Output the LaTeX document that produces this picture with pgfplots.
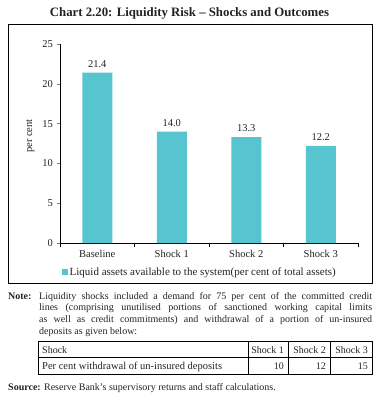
\documentclass[border=0pt]{standalone}
\usepackage{pgfplots}
\pgfplotsset{compat=1.18}
\usepackage{fontspec}
\setmainfont{Liberation Serif}
\definecolor{barc}{RGB}{86,197,208}
\definecolor{txt}{RGB}{35,35,35}
\pgfplotsset{/pgf/number format/assume math mode=true}
\begin{document}
\begin{tikzpicture}
\begin{axis}[at={(60pt,-243pt)}, anchor=south west, scale only axis,
  width=298pt, height=199pt,
  xmin=-0.5, xmax=3.5, ymin=0, ymax=25,
  axis x line=bottom, axis y line=left,
  axis line style={-, line width=0.6pt},
  ytick={0,5,...,25}, tick align=outside, major tick length=3.5pt,
  ytick style={line width=0.6pt},
  xtick={0,1,2,3}, xticklabels={Baseline,Shock 1,Shock 2,Shock 3},
  xtick style={draw=none},
  extra x ticks={-0.5,0.5,1.5,2.5,3.5}, extra x tick labels={},
  extra x tick style={xtick style={draw=black, line width=0.6pt}},
  ticklabel style={font=\fontsize{10.5}{12}\selectfont, text=txt},
  ylabel={per cent},
  ylabel style={at={(axis description cs:-0.1,0.538)}, anchor=center, font=\fontsize{10.5}{12}\selectfont, text=txt},
  legend style={at={(axis description cs:0.005,-0.146)}, anchor=west, draw=none, fill=none, inner sep=0pt, font=\fontsize{11}{12}\selectfont, text=txt},
  clip=false,
]
\addplot[ybar, bar width=30pt, fill=barc, draw=none,
  nodes near coords={\pgfmathprintnumber[fixed,fixed zerofill,precision=1]{\pgfplotspointmeta}},
  every node near coord/.append style={font=\fontsize{10.5}{12}\selectfont, text=txt, yshift=1.5pt},
  legend image code/.code={\fill[barc] (0pt,-3pt) rectangle (6pt,3pt);}]
  coordinates {(0,21.4) (1,14.0) (2,13.3) (3,12.2)};
\addlegendentry{Liquid assets available to the system(per cent of total assets)}
\end{axis}
\node[font=\bfseries\fontsize{12.8}{14}\selectfont, anchor=base, text=txt] at (189.5pt,-16.5pt) {Chart 2.20: Liquidity Risk -- Shocks and Outcomes};
\draw[line width=0.8pt] (8pt,-24.5pt) rectangle (372pt,-283pt);
\begin{scope}[every node/.style={inner sep=0pt, text=txt, font=\fontsize{10}{12}\selectfont}]
\node[anchor=base west, font=\bfseries\fontsize{10}{12}\selectfont] at (8pt,-299pt) {Note:};
\node[anchor=base west] at (39pt,-299pt) {\makebox[333pt][s]{Liquidity shocks included a demand for 75 per cent of the committed credit}};
\node[anchor=base west] at (39pt,-310.8pt) {\makebox[333pt][s]{lines (comprising unutilised portions of sanctioned working capital limits}};
\node[anchor=base west] at (39pt,-322.6pt) {\makebox[333pt][s]{as well as credit commitments) and withdrawal of a portion of un-insured}};
\node[anchor=base west] at (39pt,-334.4pt) {deposits as given below:};
\draw[line width=0.7pt] (38pt,-341pt) rectangle (372pt,-374pt);
\draw[line width=0.7pt] (38pt,-357.7pt) -- (372pt,-357.7pt);
\draw[line width=0.7pt] (248pt,-341pt) -- (248pt,-374pt);
\draw[line width=0.7pt] (288pt,-341pt) -- (288pt,-374pt);
\draw[line width=0.7pt] (330pt,-341pt) -- (330pt,-374pt);
\node[anchor=base west] at (42pt,-353pt) {Shock};
\node[anchor=base east] at (284pt,-353pt) {Shock 1};
\node[anchor=base east] at (326pt,-353pt) {Shock 2};
\node[anchor=base east] at (368pt,-353pt) {Shock 3};
\node[anchor=base west, font=\fontsize{10.5}{12}\selectfont] at (42pt,-369.5pt) {Per cent withdrawal of un-insured deposits};
\node[anchor=base east] at (284pt,-369.5pt) {10};
\node[anchor=base east] at (326pt,-369.5pt) {12};
\node[anchor=base east] at (368pt,-369.5pt) {15};
\node[anchor=base west] at (8pt,-390pt) {\textbf{Source:} Reserve Bank’s supervisory returns and staff calculations.};
\end{scope}
\path (0pt,0pt) rectangle (380pt,-398pt);
\end{tikzpicture}
\end{document}
